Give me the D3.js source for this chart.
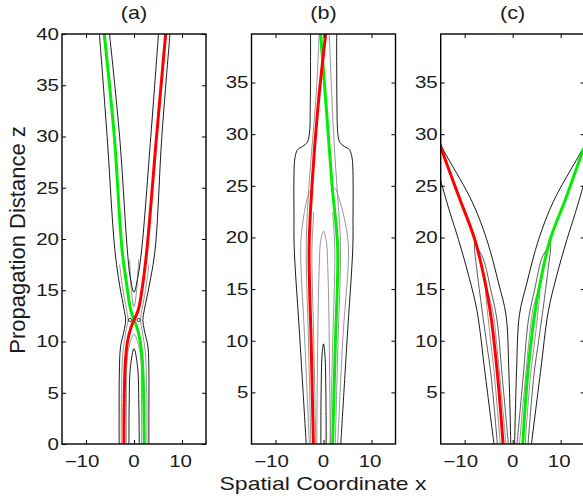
<!DOCTYPE html>
<html><head><meta charset="utf-8">
<script src="https://cdn.jsdelivr.net/npm/d3@7"></script>
<style>body{margin:0;background:#fff}svg{display:block}</style>
</head><body><svg id="chart" width="583" height="500"></svg>
<script>
// ---------- data ----------
const panelTitles = ["(a)", "(b)", "(c)"];
const xTickValues = [-10, 0, 10];
const yTicksA = [0, 5, 10, 15, 20, 25, 30, 35, 40];
const yTicksBC = [5, 10, 15, 20, 25, 30, 35];
const xDomain = [-15, 15];
const zMaxA = 40, zMaxBC = 39.7;
const xLabel = "Spatial Coordinate x";
const yLabel = "Propagation Distance z";

// panel (a)
const redA = [[-2.1,0],[-2.05,4],[-1.8,8],[-1.35,10],[-0.6,11.4],[0,12.1],[0.9,13.1],[1.8,15.5],[2.7,19],[4.7,30],[6.6,40]];
const greenA = [[2.15,0],[2.05,4],[1.75,8],[1.3,10],[0.6,11.4],[0,12.1],[-0.7,13.1],[-1.5,15.5],[-2.5,19],[-4.1,30],[-6.2,40]];
const blackA = [
  [[-7.2,40],[-5.6,30],[-4.0,19],[-3.0,15.5],[-2.1,13.2],[-1.75,12.1],[-2.1,11],[-2.8,9.5],[-3.05,7],[-3.1,3],[-3.1,0]],
  [[7.5,40],[5.8,30],[4.4,19],[3.2,15.5],[2.2,13.2],[1.85,12.1],[2.2,11],[2.9,9.5],[3.1,7],[3.1,3],[3.1,0]],
  [[-5.1,40],[-3.0,30],[-1.4,19],[-0.8,16.3],[0,14.8],[0.8,16.3],[1.6,19],[3.5,30],[5.1,40]],
  [[-1.05,0],[-1.0,4],[-0.75,7.5],[0,9.3],[0.75,7.5],[1.0,4],[1.1,0]]
];
const grayA = [
  [[-1.6,0],[-1.55,5],[-1.25,9],[0,10.7],[1.25,9],[1.55,5],[1.6,0]],
  [[-0.9,18],[-0.55,15],[0,13.4],[0.55,15],[0.95,18]],
  [[-2.65,0],[-2.6,5],[-2.3,9],[-1.6,11.2],[-1.25,12.1],[-1.6,13.2],[-2.3,15],[-3.0,17.5]],
  [[2.7,0],[2.65,5],[2.35,9],[1.65,11.2],[1.35,12.1],[1.7,13.2],[2.4,15],[3.1,17.5]]
];
const circlesA = [[-0.85,12.1],[0.95,12.1]];

// panel (b)
const redB = [[-2.1,0],[-2.55,9.5],[-3.0,19],[-2.4,25],[-1.2,32.4],[0.45,39.7]];
const greenB = [[1.9,0],[2.45,9.5],[2.95,19],[1.8,25],[0.6,32.4],[-0.6,39.7]];
const blackB = [
  [[-2.7,39.7],[-2.75,33],[-2.95,30],[-3.4,29.2],[-4.4,28.8],[-5.4,28.5],[-5.95,27.7],[-6.15,26],[-6.15,22],[-6.1,19],[-4.9,10],[-3.6,0]],
  [[2.75,39.7],[2.8,33],[3.0,30],[3.4,29.2],[4.4,28.8],[5.4,28.5],[5.95,27.7],[6.15,26],[6.15,22],[6.1,19],[4.9,10],[3.6,0]],
  [[-0.55,0],[-0.5,5],[-0.3,8.6],[0,9.7],[0.3,8.6],[0.5,5],[0.55,0]]
];
const grayB = [
  [[-2.95,0],[-3.9,10],[-4.75,19],[-4.3,21.5],[-3.5,23.6],[-2.9,24.5]],
  [[2.95,0],[4.0,10],[5.2,19],[4.5,21.5],[3.3,23.7],[2.5,24.8]],
  [[-1.4,0],[-1.2,10],[-0.9,17],[-0.6,19.6],[0,20.6],[0.6,19.6],[0.9,17],[1.2,10],[1.4,0]],
  [[-2.65,0],[-3.1,9.5],[-3.6,19],[-3.3,23],[-2.7,27],[-2.0,31],[-1.5,34],[-0.9,39.7]],
  [[-1.6,0],[-2.0,9.5],[-2.4,19],[-2.0,22.5]],
  [[1.4,0],[1.9,9.5],[2.35,19],[1.9,22.5]],
  [[2.45,0],[3.0,9.5],[3.55,19],[3.1,23],[2.5,27],[2.0,31],[1.7,34],[1.2,39.7]]
];
const circlesB = [];

// panel (c)
const redC = [[-15.5,29.4],[-14.9,28.7],[-14.1,27.6],[-11.0,23.7],[-7.9,19.8],[-5.9,16],[-4.6,12.6],[-3.15,6.6],[-2.0,0]];
const greenC = [[15.5,29.4],[14.9,28.7],[14.0,27.6],[11.0,23.7],[7.8,19.8],[5.9,16],[4.65,12.8],[3.1,6.6],[2.1,0]];
const blackC = [
  [[-15.5,26.4],[-15,25.5],[-13,22.3],[-11.3,19.8],[-9,16],[-7.4,12.8],[-5.8,7],[-3.9,0]],
  [[15.5,26.4],[15,25.5],[13,22.3],[11.3,19.8],[9,16],[7.4,12.8],[5.8,7],[3.9,0]],
  [[-15.5,29.2],[-14.9,28.8],[-13.4,27.6],[-8.5,23.5],[-5.4,19.8],[-2.9,15.5],[-1.4,12.5],[-0.8,7],[-0.4,0]],
  [[15.5,29.2],[14.9,28.8],[13.4,27.6],[8.5,23.5],[5.4,19.8],[2.9,15.5],[1.4,12.5],[0.8,7],[0.4,0]]
];
const darkC = [
  [[-3.2,0],[-4.5,6.6],[-5.5,10],[-6.4,13],[-7.5,17],[-7.95,19],[-7.85,19.9],[-7.3,19],[-6.1,17.9],[-4.6,15],[-3.3,12.1],[-2.2,6.6],[-0.9,0]],
  [[3.2,0],[4.4,6.6],[5.4,10],[6.3,13],[7.4,17],[7.9,19],[7.8,19.9],[7.2,19],[6.0,17.9],[4.6,15],[3.3,12.1],[2.2,6.6],[0.9,0]]
];
const grayC = [
  [[-2.6,0],[-3.8,6.6],[-4.6,10],[-5.3,13],[-5.6,14.5],[-5.55,15.1],[-5.1,14.5],[-4.2,13],[-3.4,10],[-2.7,6.6],[-1.4,0]],
  [[2.6,0],[3.7,6.6],[4.6,10],[5.3,13],[5.6,14.5],[5.55,15.1],[5.1,14.5],[4.2,13],[3.4,10],[2.7,6.6],[1.4,0]]
];
const darkA = [], darkB = [];
const circlesC = [];

// ---------- drawing ----------
const panels = [
  {title: panelTitles[0], zMax: zMaxA, yTicks: yTicksA, red: redA, green: greenA, black: blackA, dark: darkA, gray: grayA, circles: circlesA},
  {title: panelTitles[1], zMax: zMaxBC, yTicks: yTicksBC, red: redB, green: greenB, black: blackB, dark: darkB, gray: grayB, circles: circlesB},
  {title: panelTitles[2], zMax: zMaxBC, yTicks: yTicksBC, red: redC, green: greenC, black: blackC, dark: darkC, gray: grayC, circles: circlesC}
];
const layout = [
  {x0: 62, x1: 206, yb: 444, yt: 34},
  {x0: 251.5, x1: 395.5, yb: 444, yt: 34},
  {x0: 440.7, x1: 584.7, yb: 444, yt: 34}
];
const FONT = "'Liberation Sans', Arial, Helvetica, sans-serif";
const TXT = "#1a1a1a";
const svg = d3.select("#chart");

panels.forEach((p, i) => {
  const L = layout[i];
  const x = d3.scaleLinear().domain(xDomain).range([L.x0, L.x1]);
  const y = d3.scaleLinear().domain([0, p.zMax]).range([L.yb, L.yt]);
  const g = svg.append("g");
  const cid = "clip" + i;
  svg.append("clipPath").attr("id", cid).append("rect")
    .attr("x", L.x0).attr("y", L.yt).attr("width", L.x1 - L.x0).attr("height", L.yb - L.yt);
  const plot = g.append("g").attr("clip-path", `url(#${cid})`);
  const line = d3.line().x(d => x(d[0])).y(d => y(d[1])).curve(d3.curveCatmullRom.alpha(0.5));

  plot.selectAll("path.gray").data(p.gray).join("path").attr("class", "gray")
    .attr("d", line).attr("fill", "none").attr("stroke", "#8a8a8a").attr("stroke-width", 0.9);
  plot.selectAll("path.dark").data(p.dark).join("path").attr("class", "dark")
    .attr("d", line).attr("fill", "none").attr("stroke", "#4a4a4a").attr("stroke-width", 0.9);
  plot.selectAll("path.black").data(p.black).join("path").attr("class", "black")
    .attr("d", line).attr("fill", "none").attr("stroke", "#000").attr("stroke-width", 0.9);
  plot.selectAll("circle").data(p.circles).join("circle")
    .attr("cx", d => x(d[0])).attr("cy", d => y(d[1])).attr("r", 1.6)
    .attr("fill", "none").attr("stroke", "#000").attr("stroke-width", 0.8);
  plot.append("path").datum(p.green).attr("d", line).attr("fill", "none")
    .attr("stroke", "#00ee00").attr("stroke-width", 3);
  plot.append("path").datum(p.red).attr("d", line).attr("fill", "none")
    .attr("stroke", "#ff0000").attr("stroke-width", 3);

  // ticks (inward, all four sides)
  const tk = 4;
  const ax = [
    [d3.axisBottom(x).tickValues(xTickValues), `translate(0,${L.yb})`],
    [d3.axisTop(x).tickValues(xTickValues), `translate(0,${L.yt})`],
    [d3.axisLeft(y).tickValues(p.yTicks), `translate(${L.x0},0)`],
    [d3.axisRight(y).tickValues(p.yTicks), `translate(${L.x1},0)`]
  ];
  ax.forEach(([a, tr]) => {
    const ag = g.append("g").attr("transform", tr).call(a.tickSize(-tk).tickSizeOuter(0).tickFormat(""));
    ag.select(".domain").remove();
    ag.selectAll("line").attr("stroke", "#000").attr("stroke-width", 1);
  });
  // box
  g.append("rect").attr("x", L.x0).attr("y", L.yt).attr("width", L.x1 - L.x0).attr("height", L.yb - L.yt)
    .attr("fill", "none").attr("stroke", "#000").attr("stroke-width", 1.4);

  // tick labels
  const fmt = d3.format("");
  g.selectAll("text.xt").data(xTickValues).join("text").attr("class", "xt")
    .attr("transform", d => `translate(${x(d) - (d < 0 ? 4 : d > 0 ? 1.5 : 0)},${L.yb + 23}) scale(1.28,1)`)
    .attr("text-anchor", "middle").attr("font-family", FONT).attr("font-size", 16).attr("fill", TXT)
    .text(d => fmt(d));
  g.selectAll("text.yt").data(p.yTicks).join("text").attr("class", "yt")
    .attr("transform", d => `translate(${L.x0 - 3},${y(d) + 5.8}) scale(1.28,1)`)
    .attr("text-anchor", "end").attr("font-family", FONT).attr("font-size", 16).attr("fill", TXT)
    .text(d => fmt(d));
  // title
  g.append("text").attr("transform", `translate(${x(0)},${18.5}) scale(1.2,1)`)
    .attr("text-anchor", "middle").attr("font-family", FONT).attr("font-size", 18).attr("fill", TXT)
    .text(p.title);
});

svg.append("text").attr("transform", `translate(323,490) scale(1.21,1)`)
  .attr("text-anchor", "middle").attr("font-family", FONT).attr("font-size", 19).attr("fill", TXT)
  .text(xLabel);
svg.append("text").attr("transform", `translate(25,240) rotate(-90)`)
  .attr("text-anchor", "middle").attr("font-family", FONT).attr("font-size", 22).attr("fill", TXT)
  .text(yLabel);
</script></body></html>
